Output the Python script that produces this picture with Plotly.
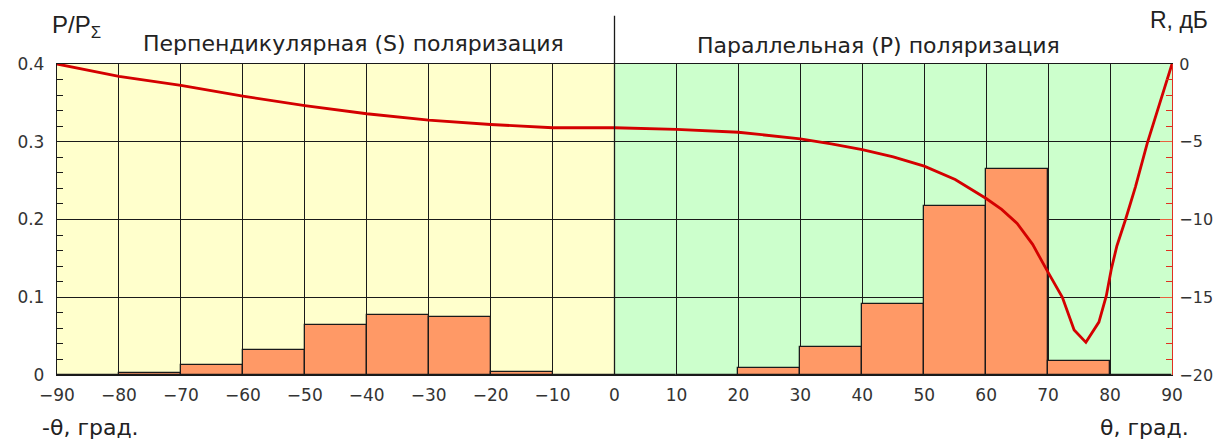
import plotly.graph_objects as go

# ---- data ----
bin_centers = [-85, -75, -65, -55, -45, -35, -25, -15, -5, 5, 15, 25, 35, 45, 55, 65, 75, 85]
power_share = [0, 0.002, 0.013, 0.032, 0.064, 0.077, 0.074, 0.004, 0, 0, 0, 0.009, 0.036, 0.091, 0.218, 0.265, 0.018, 0]

theta = [-90, -80, -70, -60, -50, -40, -30, -20, -10, 0, 10, 20, 30, 35, 40, 45, 50, 55, 60, 62.5, 65, 67.5,
         70, 72.3, 74.2, 76.1, 78.2, 79.4, 80.2, 81.1, 82.5, 84.1, 86, 88, 90]
refl_db = [0, -0.79, -1.38, -2.07, -2.67, -3.2, -3.61, -3.89, -4.1, -4.1, -4.21, -4.39, -4.81, -5.13, -5.5, -5.97,
           -6.57, -7.43, -8.65, -9.35, -10.25, -11.6, -13.4, -15.0, -17.1, -17.9, -16.6, -14.9, -13.2, -11.7, -10.0,
           -7.9, -5.1, -2.6, 0]

x_ticks = list(range(-90, 91, 10))
y_ticks = [0, 0.1, 0.2, 0.3, 0.4]
y_ticktext = ["0", "0.1", "0.2", "0.3", "0.4"]
y2_ticks = [-20, -15, -10, -5, 0]

ARIAL = "Liberation Sans, Arial, sans-serif"
WIDE = "DejaVu Sans, Verdana, sans-serif"
TXT = "#333333"

fig = go.Figure()
fig.add_trace(go.Bar(
    x=bin_centers, y=power_share, width=10,
    marker=dict(color="#FF9966", line=dict(color="#1a1a1a", width=1.3)),
    showlegend=False,
))
fig.add_trace(go.Scatter(
    x=theta, y=refl_db, yaxis="y2", mode="lines",
    line=dict(color="#D40000", width=2.8),
    showlegend=False,
))

fig.add_shape(type="rect", xref="x", yref="y", x0=-90, x1=0, y0=0, y1=0.4,
              fillcolor="#FFFFCC", line_width=0, layer="below")
fig.add_shape(type="rect", xref="x", yref="y", x0=0, x1=90, y0=0, y1=0.4,
              fillcolor="#CCFFCC", line_width=0, layer="below")
fig.add_shape(type="line", xref="x", yref="paper", x0=0, x1=0, y0=0, y1=1.155,
              line=dict(color="#1a1a1a", width=1.3))

def ann(text, x, y, xanchor, size, family):
    fig.add_annotation(text=text, x=x, y=y, xref="paper", yref="paper",
                       xanchor=xanchor, yanchor="middle", showarrow=False,
                       font=dict(family=family, size=size, color="#222222"))

ann("P/P<sub>Σ</sub>", -0.006, 1.12, "left", 24, ARIAL)
ann("Перпендикулярная (S) поляризация", 0.266, 1.067, "center", 22, WIDE)
ann("Параллельная (P) поляризация", 0.737, 1.061, "center", 22, WIDE)
ann("R, дБ", 1.034, 1.14, "right", 23, ARIAL)
ann("-θ, град.", -0.015, -0.17, "left", 22, WIDE)
ann("θ, град.", 1.017, -0.17, "right", 22, WIDE)

fig.update_layout(
    width=1216, height=445,
    margin=dict(l=57, r=44, t=64, b=70),
    paper_bgcolor="white", plot_bgcolor="rgba(0,0,0,0)",
    bargap=0,
    xaxis=dict(range=[-90, 90], tickvals=x_ticks, showgrid=True, gridcolor="#1a1a1a", gridwidth=1.2,
               zeroline=False, showline=True, linecolor="#1a1a1a", linewidth=1.3, mirror=True,
               ticks="", tickfont=dict(family=WIDE, size=17, color=TXT), automargin=False,
               ticklabelstandoff=4),
    yaxis=dict(range=[0, 0.4], tickvals=y_ticks, ticktext=y_ticktext, showgrid=True,
               gridcolor="#1a1a1a", gridwidth=1.2, zeroline=False, showline=True,
               linecolor="#1a1a1a", linewidth=1.3, ticks="inside", ticklen=6, tickcolor="#1a1a1a",
               minor=dict(dtick=0.02, ticks="inside", ticklen=6, tickcolor="#1a1a1a", showgrid=False),
               tickfont=dict(family=WIDE, size=17, color=TXT), ticklabelstandoff=8, automargin=False),
    yaxis2=dict(range=[-20, 0], tickvals=y2_ticks, overlaying="y", side="right", showgrid=False,
                zeroline=False, showline=True, linecolor="#E03020", linewidth=1.3,
                ticks="inside", ticklen=12, tickcolor="#E86040",
                minor=dict(dtick=1, ticks="inside", ticklen=6, tickcolor="#E03020", showgrid=False),
                tickfont=dict(family=WIDE, size=16, color=TXT), ticklabelstandoff=3, automargin=False),
)

fig.write_html("out.html", config={"displayModeBar": False},
               post_script="document.body.style.margin='0px';document.body.style.overflow='hidden';")
